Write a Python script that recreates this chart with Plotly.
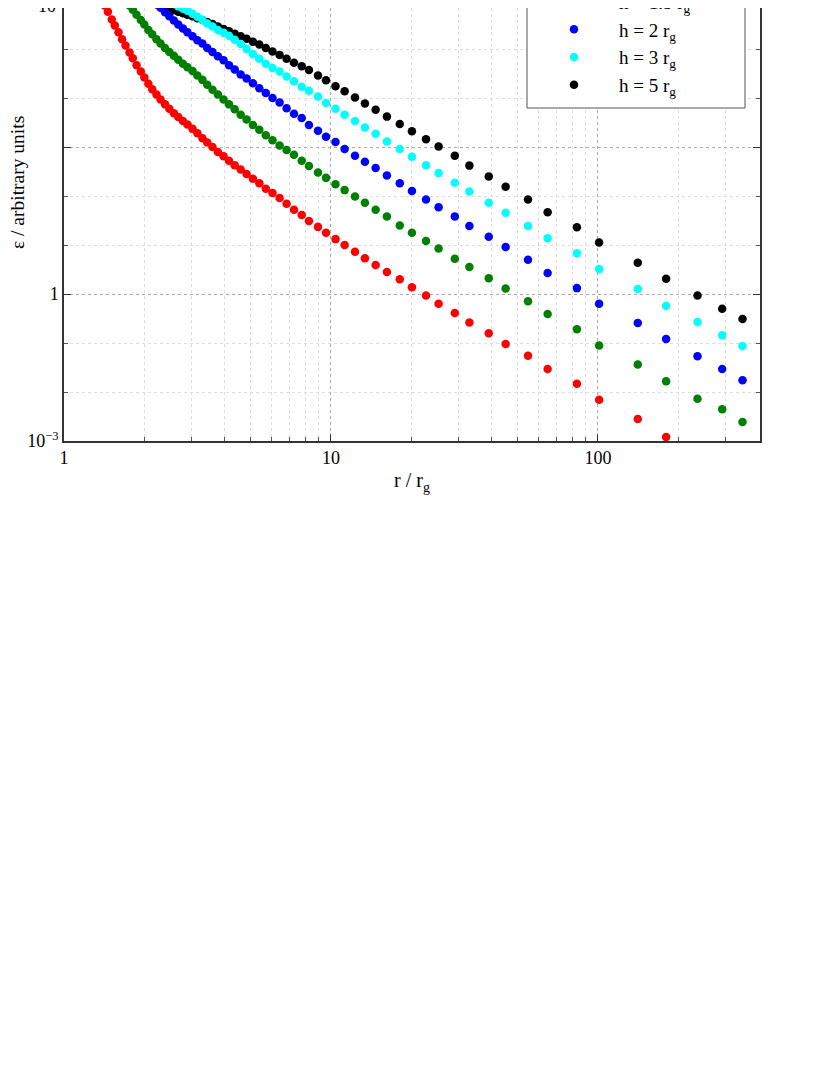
import plotly.graph_objects as go

# radius grid (r / r_g), shared by every curve
r_grid = [1.38, 1.42, 1.46, 1.51, 1.55, 1.60, 1.65, 1.70, 1.76, 1.81,
          1.87, 1.94, 2.00, 2.07, 2.14, 2.22, 2.30, 2.39, 2.48, 2.58,
          2.68, 2.79, 2.90, 3.03, 3.16, 3.30, 3.44, 3.60, 3.77, 3.96,
          4.15, 4.36, 4.59, 4.83, 5.10, 5.39, 5.70, 6.04, 6.42, 6.82,
          7.27, 7.77, 8.27, 8.94, 9.58, 10.4, 11.25, 12.3, 13.4, 14.7,
          16.2, 18.1, 20.1, 22.7, 25.3, 29.1, 33.0, 39.0, 45.1, 54.7,
          64.8, 83.4, 101, 141, 180, 236, 292, 348]

# emissivity (arbitrary units, as drawn); None = outside the frame
eps_h1 = [9.02, 8.89, 8.76, 8.60, 8.48, 8.34, 8.20, 8.07, 7.93, 7.81,
          7.67, 7.54, 7.42, 7.29, 7.18, 7.07, 6.97, 6.87, 6.78, 6.69,
          6.61, 6.53, 6.46, 6.37, 6.28, 6.18, 6.09, 6.00, 5.90, 5.81,
          5.72, 5.63, 5.54, 5.45, 5.35, 5.26, 5.15, 5.06, 4.96, 4.84,
          4.72, 4.61, 4.49, 4.37, 4.25, 4.12, 4.00, 3.86, 3.73, 3.59,
          3.45, 3.30, 3.14, 2.97, 2.80, 2.61, 2.42, 2.20, 1.98, 1.74,
          1.47, 1.17, 0.84, 0.45, 0.08, None, None, None]

eps_h15 = [None] * 6 + [
          9.09, 9.00, 8.89, 8.80, 8.70, 8.59, 8.50, 8.39, 8.30, 8.20,
          8.11, 8.02, 7.94, 7.86, 7.78, 7.70, 7.63, 7.55, 7.46, 7.37,
          7.27, 7.17, 7.07, 6.97, 6.87, 6.77, 6.66, 6.56, 6.45, 6.35,
          6.24, 6.14, 6.03, 5.94, 5.84, 5.72, 5.61, 5.48, 5.37, 5.24,
          5.12, 4.99, 4.86, 4.72, 4.58, 4.40, 4.25, 4.08, 3.93, 3.72,
          3.55, 3.32, 3.11, 2.85, 2.59, 2.28, 1.95, 1.56, 1.22, 0.86,
          0.65, 0.39]

eps_h2 = [None] * 13 + [
          9.11, 9.02, 8.93, 8.84, 8.75, 8.67, 8.58, 8.50, 8.42, 8.34,
          8.26, 8.18, 8.11, 8.02, 7.94, 7.85, 7.77, 7.67, 7.58, 7.48,
          7.40, 7.30, 7.20, 7.10, 7.00, 6.91, 6.79, 6.68, 6.59, 6.45,
          6.33, 6.21, 6.10, 5.96, 5.82, 5.70, 5.57, 5.42, 5.26, 5.10,
          4.93, 4.77, 4.58, 4.39, 4.17, 3.96, 3.70, 3.43, 3.12, 2.80,
          2.41, 2.08, 1.73, 1.47, 1.24]

eps_h3 = [None] * 17 + [
          9.02, 8.97, 8.92, 8.87, 8.82, 8.78, 8.72, 8.66, 8.59, 8.52,
          8.46, 8.39, 8.33, 8.27, 8.19, 8.10, 8.00, 7.90, 7.80, 7.70,
          7.61, 7.54, 7.44, 7.34, 7.23, 7.15, 7.03, 6.90, 6.78, 6.66,
          6.53, 6.40, 6.27, 6.11, 5.96, 5.80, 5.63, 5.47, 5.27, 5.09,
          4.86, 4.66, 4.39, 4.14, 3.83, 3.51, 3.10, 2.76, 2.43, 2.16,
          1.94]

eps_h5 = [None] * 11 + [
          9.00, 8.98, 8.96, 8.93, 8.91, 8.88, 8.85, 8.82, 8.79, 8.76,
          8.73, 8.70, 8.67, 8.63, 8.59, 8.55, 8.51, 8.46, 8.41, 8.36,
          8.31, 8.26, 8.21, 8.15, 8.09, 8.02, 7.95, 7.88, 7.80, 7.72,
          7.65, 7.57, 7.46, 7.36, 7.24, 7.14, 7.01, 6.89, 6.76, 6.62,
          6.47, 6.32, 6.16, 6.01, 5.82, 5.62, 5.40, 5.19, 4.93, 4.67,
          4.36, 4.05, 3.64, 3.31, 2.97, 2.70, 2.49]

series_names = ["h = 1 r<sub>g</sub>", "h = 1.5 r<sub>g</sub>", "h = 2 r<sub>g</sub>",
                "h = 3 r<sub>g</sub>", "h = 5 r<sub>g</sub>"]
series_vals = [eps_h1, eps_h15, eps_h2, eps_h3, eps_h5]
series_cols = ["#ff0000", "#008000", "#0000ff", "#00ffff", "#000000"]

x_ticks = [1, 10, 100]
x_ticktext = ["1", "10", "100"]
x_minor = [2, 3, 4, 5, 6, 7, 8, 9, 20, 30, 40, 50, 60, 70, 80, 90, 200, 300]
y_ticks = [0, 3, 6]
y_ticktext = ["10<sup>\u22123</sup>", "1", ""]
y_minor = [1, 2, 4, 5, 7, 8]

FONT = "Liberation Serif, Times New Roman, serif"

# page body has an 8px margin; the frame is placed so that it lands where the
# original sits (x 64..760, bottom at 441, cut off at the top of the window)
PLOT_H = 433
Y_TOP = PLOT_H / 49.0

fig = go.Figure()
# drawn back to front: h=5 first so lower heights sit on top
for i in reversed(range(len(series_vals))):
    fig.add_trace(go.Scatter(
        x=r_grid, y=series_vals[i], mode="markers", name=series_names[i],
        marker=dict(color=series_cols[i], size=8.5, line=dict(width=0)),
        legendrank=i + 1
    ))

# legend frame
fig.add_shape(type="rect", xref="paper", yref="paper",
              x0=(527 - 64) / 696, x1=(745 - 64) / 696,
              y0=(PLOT_H - 100) / PLOT_H, y1=1.2,
              line=dict(color="#555555", width=1), fillcolor="white", layer="above")

# top tick label, mostly cut off by the window edge
fig.add_annotation(text="10", xref="paper", x=0, xanchor="right", xshift=-6,
                   yref="paper", y=1, yanchor="middle", yshift=2, showarrow=False,
                   font=dict(family=FONT, size=18, color="black"))
# y title sits above the centre of the visible axis
fig.add_annotation(text="\u03b5 / arbitrary units", textangle=-90,
                   xref="paper", x=0, xanchor="center", xshift=-46,
                   yref="paper", y=(PLOT_H - 175) / PLOT_H, yanchor="middle",
                   showarrow=False, font=dict(family=FONT, size=19.5, color="black"))

fig.update_xaxes(
    type="log", range=[0, 2.607],
    tickmode="array", tickvals=x_ticks, ticktext=x_ticktext,
    ticks="inside", ticklen=7, tickcolor="#333333", tickwidth=1,
    showgrid=True, gridcolor="#a8a8a8", griddash="dot", gridwidth=1,
    minor=dict(tickmode="array", tickvals=x_minor, ticks="inside", ticklen=4,
               tickcolor="#555555", showgrid=True, gridcolor="#dddddd", griddash="dot"),
    showline=True, linecolor="#333333", linewidth=1.5, mirror=False,
    tickfont=dict(family=FONT, size=18, color="black"),
    title=dict(text="r / r<sub>g</sub>", font=dict(family=FONT, size=20, color="black"), standoff=6),
)
fig.update_yaxes(
    range=[0, Y_TOP], zeroline=False,
    tickmode="array", tickvals=y_ticks, ticktext=y_ticktext,
    ticks="inside", ticklen=7, tickcolor="#333333", tickwidth=1,
    showgrid=True, gridcolor="#a8a8a8", griddash="dot", gridwidth=1,
    minor=dict(tickmode="array", tickvals=y_minor, ticks="inside", ticklen=4,
               tickcolor="#555555", showgrid=True, gridcolor="#dddddd", griddash="dot"),
    showline=True, linecolor="#333333", linewidth=1.5, mirror="ticks",
    tickfont=dict(family=FONT, size=18, color="black"),
)

fig.update_layout(
    width=830, height=1075, autosize=False,
    margin=dict(l=56, r=78, t=0, b=1075 - PLOT_H, autoexpand=False),
    paper_bgcolor="white", plot_bgcolor="white",
    font=dict(family=FONT, size=18, color="black"),
    showlegend=True,
    legend=dict(x=(529 - 64) / 696, xanchor="left",
                y=(PLOT_H - 96) / PLOT_H, yanchor="bottom",
                bgcolor="rgba(0,0,0,0)", borderwidth=0, itemwidth=80,
                font=dict(family=FONT, size=19, color="black")),
)

fig.write_html("out.html")
